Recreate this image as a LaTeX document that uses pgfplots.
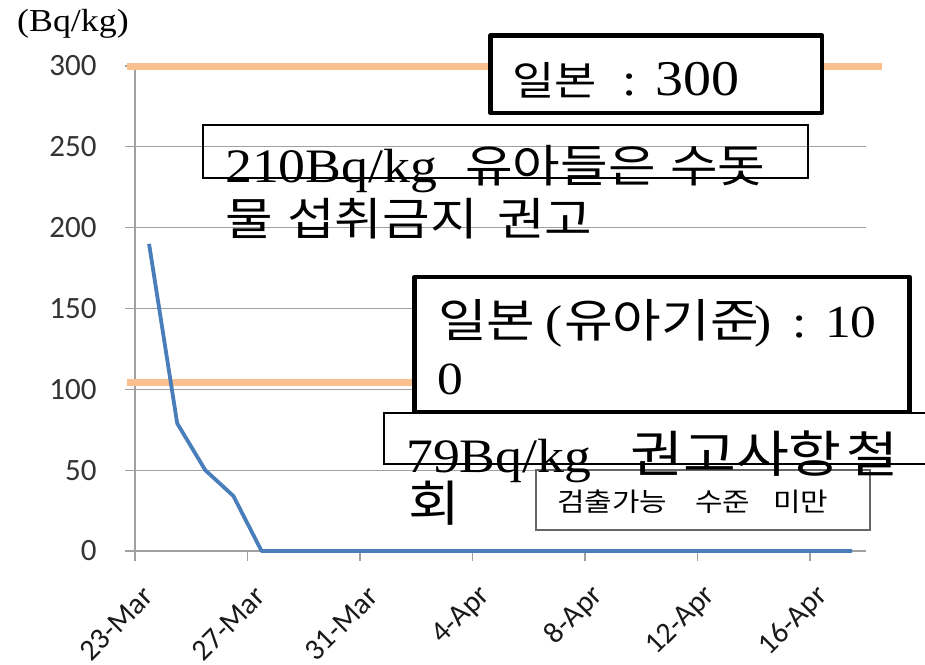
\documentclass[border=0pt]{standalone}
\usepackage{fontspec}
\setmainfont{Carlito}
\newfontfamily\kr[FakeStretch=1.15]{Noto Sans CJK KR}
\newfontfamily\lat[FakeStretch=1.12]{Liberation Serif}
\usepackage{pgfplots}
\pgfplotsset{compat=1.18}
\definecolor{gridgray}{RGB}{160,160,160}
\definecolor{orangeln}{RGB}{250,192,143}
\definecolor{blueln}{RGB}{74,126,187}
\newcommand{\T}[4]{\node[anchor=base west,inner sep=0pt] at (#1,-#2) {\fontsize{#3}{#3}\selectfont #4};}
\begin{document}
\begin{tikzpicture}[x=1pt,y=1pt]
\useasboundingbox (0,0) rectangle (925,-664);
\begin{axis}[
  at={(135pt,-551pt)}, anchor=south west,
  scale only axis, width=731.25pt, height=485pt,
  xmin=0, xmax=26, ymin=0, ymax=300,
  clip=false,
  axis x line*=bottom, axis y line*=left,
  axis line style={draw=gridgray, line width=1.3pt, -},
  ytick={0,50,...,300},
  xtick={0,4,...,24},
  xticklabels={23-Mar,27-Mar,31-Mar,4-Apr,8-Apr,12-Apr,16-Apr},
  ymajorgrids, grid style={draw=gridgray, line width=1.3pt},
  tick align=outside, major tick length=10pt,
  tick style={draw=gridgray, line width=1.3pt},
  /pgf/number format/assume math mode=true,
  yticklabel style={font=\fontsize{31}{31}\selectfont, text=black!80, anchor=east, xshift=-25pt},
  xticklabel style={font=\fontsize{30}{30}\selectfont, text=black!90, rotate=45, anchor=east, xshift=-9pt, yshift=-31pt},
]
\addplot[draw=orangeln, line width=7pt] coordinates {(-0.284,300) (26.57,300)};
\addplot[draw=orangeln, line width=7pt] coordinates {(-0.284,104) (11,104)};
\addplot[draw=blueln, line width=3.8pt, line join=round] coordinates {
(0.5,190) (1.5,79) (2.5,50) (3.5,34) (4.5,0) (5.5,0) (6.5,0) (7.5,0) (8.5,0)
(9.5,0) (10.5,0) (11.5,0) (12.5,0) (13.5,0) (14.5,0) (15.5,0) (16.5,0) (17.5,0)
(18.5,0) (19.5,0) (20.5,0) (21.5,0) (22.5,0) (23.5,0) (24.5,0) (25.5,0)};
\end{axis}
% unit label
\T{17}{31}{32}{\lat (Bq/kg)}
% box 1
\draw[line width=4.5pt, fill=white, line join=round] (490.5,-35.5) rectangle (822,-113);
\T{512}{95}{40}{\kr 일본}
\T{622}{95}{46}{\lat :}
\T{655}{95}{50}{\lat 300}
% box 2
\draw[line width=2pt] (203,-125) rectangle (808,-178);
\T{225}{182}{48}{\lat 210Bq/kg}
\T{465}{182}{45}{\kr 유아들은}
\T{670}{182}{45}{\kr 수돗}
\T{225}{235}{45}{\kr 물}
\T{287}{235}{45}{\kr 섭취금지}
\T{497}{235}{45}{\kr 권고}
% box 3
\draw[line width=4.5pt, fill=white, line join=round] (414.5,-277) rectangle (909.5,-412);
\T{438}{337}{46}{\kr 일본}
\T{545}{337}{46}{\lat (}
\T{564}{337}{46}{\kr 유아기준}
\T{754}{337}{46}{\lat )}
\T{792}{337}{46}{\lat :}
\T{825}{337}{46}{\lat 10}
\T{437}{394}{46}{\lat 0}
% box 5
\draw[line width=1.5pt, draw=black!60, fill=white] (536,-470) rectangle (870,-530);
\T{557}{511}{26}{\kr 검출가능}
\T{695}{511}{26}{\kr 수준}
\T{773}{511}{26}{\kr 미만}
% box 4
\draw[line width=2pt] (384,-413) rectangle (960,-464);
\T{406}{472}{48}{\lat 79Bq/kg}
\T{630}{472}{50}{\kr 권고사항}
\T{846}{472}{49}{\kr 철}
\T{408}{521}{49}{\kr 회}
\end{tikzpicture}
\end{document}
